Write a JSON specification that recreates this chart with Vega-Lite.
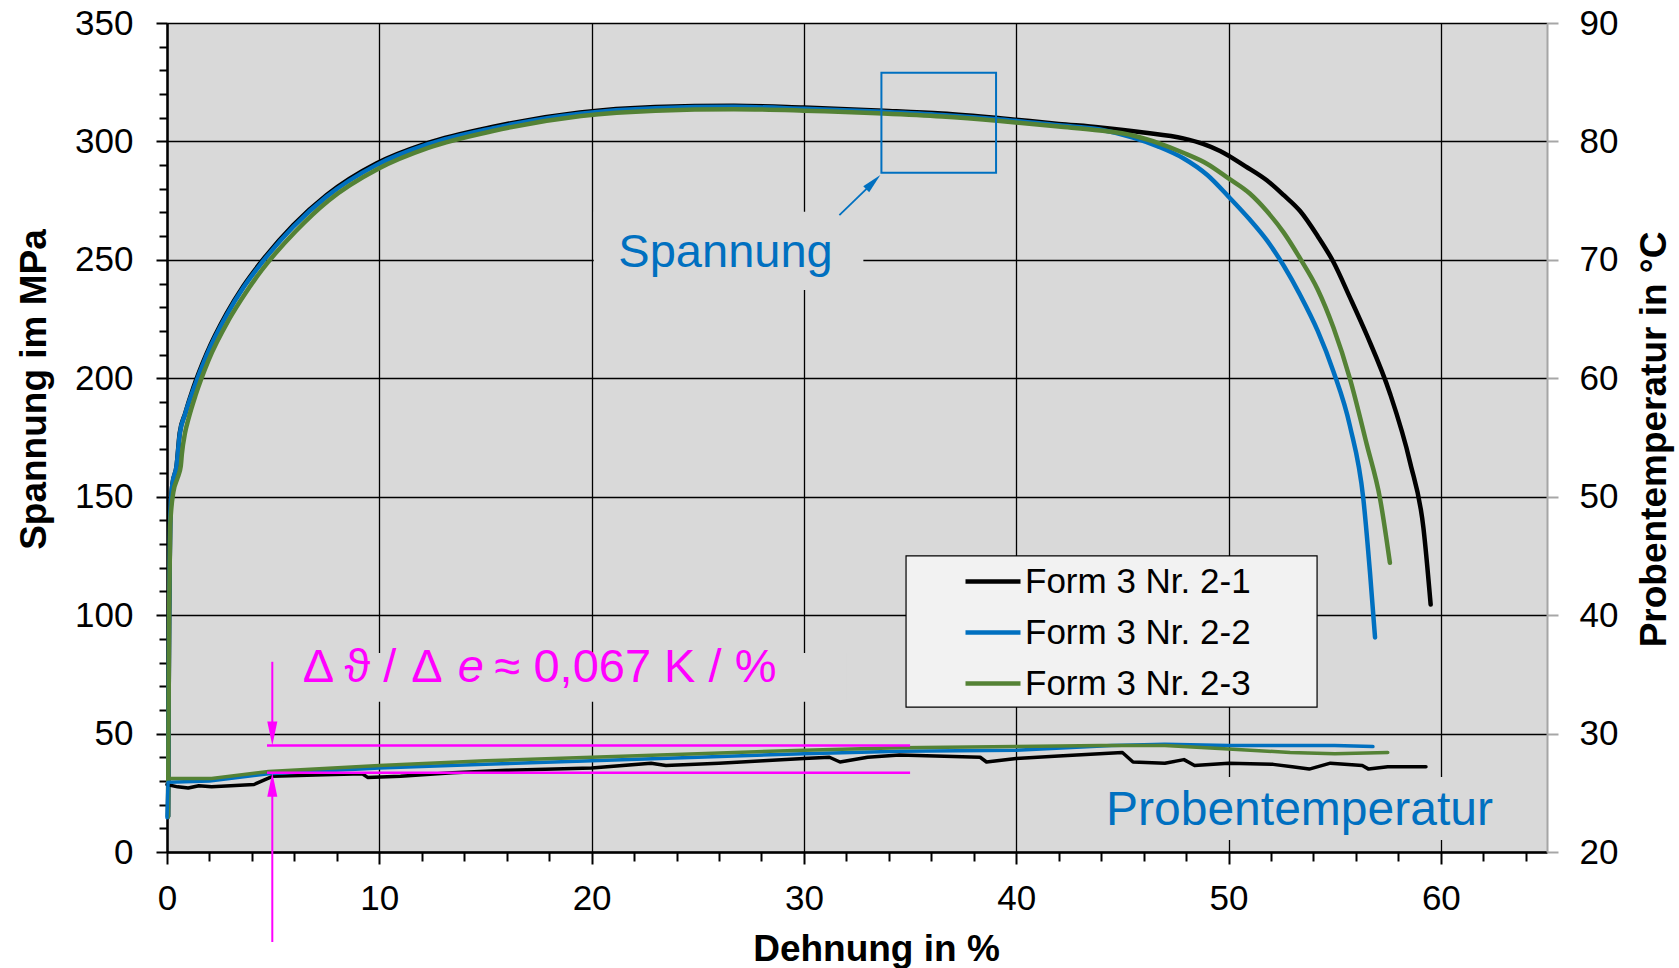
{
  "$schema": "https://vega.github.io/schema/vega-lite/v6.json",
  "width": 1380,
  "height": 829,
  "autosize": {"type": "none"},
  "padding": {"left": 167, "top": 23, "right": 132, "bottom": 116},
  "background": "white",
  "config": {"font": "Liberation Sans", "view": {"fill": "#d9d9d9", "stroke": null}},
  "datasets": {
    "stress": [
      {"series":"Form 3 Nr. 2-1","strain":0.05,"stress":15},{"series":"Form 3 Nr. 2-1","strain":0.1,"stress":100},{"series":"Form 3 Nr. 2-1","strain":0.15,"stress":140},{"series":"Form 3 Nr. 2-1","strain":0.25,"stress":155},{"series":"Form 3 Nr. 2-1","strain":0.45,"stress":163},{"series":"Form 3 Nr. 2-1","strain":0.6,"stress":177},{"series":"Form 3 Nr. 2-1","strain":0.85,"stress":185},{"series":"Form 3 Nr. 2-1","strain":1.24,"stress":196},{"series":"Form 3 Nr. 2-1","strain":1.87,"stress":210.5},{"series":"Form 3 Nr. 2-1","strain":2.81,"stress":227.4},{"series":"Form 3 Nr. 2-1","strain":3.6,"stress":239},{"series":"Form 3 Nr. 2-1","strain":4.38,"stress":248.5},{"series":"Form 3 Nr. 2-1","strain":5.95,"stress":264.7},{"series":"Form 3 Nr. 2-1","strain":7.52,"stress":277.4},{"series":"Form 3 Nr. 2-1","strain":9.88,"stress":290.8},{"series":"Form 3 Nr. 2-1","strain":12.23,"stress":299.2},{"series":"Form 3 Nr. 2-1","strain":15.37,"stress":306.2},{"series":"Form 3 Nr. 2-1","strain":19.45,"stress":312.2},{"series":"Form 3 Nr. 2-1","strain":23,"stress":314.5},{"series":"Form 3 Nr. 2-1","strain":26.7,"stress":315.1},{"series":"Form 3 Nr. 2-1","strain":30,"stress":314.3},{"series":"Form 3 Nr. 2-1","strain":33.74,"stress":313},{"series":"Form 3 Nr. 2-1","strain":36.5,"stress":311.8},{"series":"Form 3 Nr. 2-1","strain":39.24,"stress":309.8},{"series":"Form 3 Nr. 2-1","strain":42,"stress":307.4},{"series":"Form 3 Nr. 2-1","strain":43.95,"stress":305.9},{"series":"Form 3 Nr. 2-1","strain":46,"stress":303.8},{"series":"Form 3 Nr. 2-1","strain":47.87,"stress":301.3},{"series":"Form 3 Nr. 2-1","strain":48.8,"stress":299},{"series":"Form 3 Nr. 2-1","strain":49.6,"stress":296},{"series":"Form 3 Nr. 2-1","strain":50.8,"stress":289.5},{"series":"Form 3 Nr. 2-1","strain":51.8,"stress":283.6},{"series":"Form 3 Nr. 2-1","strain":52.6,"stress":277.3},{"series":"Form 3 Nr. 2-1","strain":53.37,"stress":270.6},{"series":"Form 3 Nr. 2-1","strain":54.2,"stress":260},{"series":"Form 3 Nr. 2-1","strain":54.94,"stress":249.1},{"series":"Form 3 Nr. 2-1","strain":55.7,"stress":234.5},{"series":"Form 3 Nr. 2-1","strain":56.51,"stress":218.3},{"series":"Form 3 Nr. 2-1","strain":57.6,"stress":193.7},{"series":"Form 3 Nr. 2-1","strain":58.55,"stress":164.5},{"series":"Form 3 Nr. 2-1","strain":59.18,"stress":136.8},{"series":"Form 3 Nr. 2-1","strain":59.52,"stress":104.5},
      {"series":"Form 3 Nr. 2-2","strain":0.05,"stress":15},{"series":"Form 3 Nr. 2-2","strain":0.1,"stress":100},{"series":"Form 3 Nr. 2-2","strain":0.15,"stress":140},{"series":"Form 3 Nr. 2-2","strain":0.25,"stress":155},{"series":"Form 3 Nr. 2-2","strain":0.45,"stress":163},{"series":"Form 3 Nr. 2-2","strain":0.6,"stress":176.5},{"series":"Form 3 Nr. 2-2","strain":0.85,"stress":184.8},{"series":"Form 3 Nr. 2-2","strain":1.24,"stress":195.2},{"series":"Form 3 Nr. 2-2","strain":1.87,"stress":209.8},{"series":"Form 3 Nr. 2-2","strain":2.81,"stress":226.7},{"series":"Form 3 Nr. 2-2","strain":3.6,"stress":238.3},{"series":"Form 3 Nr. 2-2","strain":4.38,"stress":247.8},{"series":"Form 3 Nr. 2-2","strain":5.95,"stress":264},{"series":"Form 3 Nr. 2-2","strain":7.52,"stress":276.7},{"series":"Form 3 Nr. 2-2","strain":9.88,"stress":290.1},{"series":"Form 3 Nr. 2-2","strain":12.23,"stress":298.6},{"series":"Form 3 Nr. 2-2","strain":15.37,"stress":305.6},{"series":"Form 3 Nr. 2-2","strain":19.45,"stress":311.7},{"series":"Form 3 Nr. 2-2","strain":23,"stress":314},{"series":"Form 3 Nr. 2-2","strain":26.7,"stress":314.6},{"series":"Form 3 Nr. 2-2","strain":30,"stress":313.8},{"series":"Form 3 Nr. 2-2","strain":33.74,"stress":312.5},{"series":"Form 3 Nr. 2-2","strain":36.5,"stress":311.2},{"series":"Form 3 Nr. 2-2","strain":39.24,"stress":309.3},{"series":"Form 3 Nr. 2-2","strain":42,"stress":306.8},{"series":"Form 3 Nr. 2-2","strain":43.95,"stress":305},{"series":"Form 3 Nr. 2-2","strain":45.5,"stress":301.6},{"series":"Form 3 Nr. 2-2","strain":46.7,"stress":297.8},{"series":"Form 3 Nr. 2-2","strain":47.87,"stress":292.9},{"series":"Form 3 Nr. 2-2","strain":49,"stress":285.8},{"series":"Form 3 Nr. 2-2","strain":50,"stress":276.7},{"series":"Form 3 Nr. 2-2","strain":51,"stress":267},{"series":"Form 3 Nr. 2-2","strain":51.8,"stress":258.3},{"series":"Form 3 Nr. 2-2","strain":52.6,"stress":247.5},{"series":"Form 3 Nr. 2-2","strain":53.37,"stress":235.2},{"series":"Form 3 Nr. 2-2","strain":54.2,"stress":220},{"series":"Form 3 Nr. 2-2","strain":54.94,"stress":202.9},{"series":"Form 3 Nr. 2-2","strain":55.72,"stress":179.8},{"series":"Form 3 Nr. 2-2","strain":56.35,"stress":149},{"series":"Form 3 Nr. 2-2","strain":56.66,"stress":118.3},{"series":"Form 3 Nr. 2-2","strain":56.9,"stress":90.6},
      {"series":"Form 3 Nr. 2-3","strain":0.05,"stress":15},{"series":"Form 3 Nr. 2-3","strain":0.1,"stress":100},{"series":"Form 3 Nr. 2-3","strain":0.15,"stress":138},{"series":"Form 3 Nr. 2-3","strain":0.3,"stress":152},{"series":"Form 3 Nr. 2-3","strain":0.5,"stress":158},{"series":"Form 3 Nr. 2-3","strain":0.65,"stress":163},{"series":"Form 3 Nr. 2-3","strain":0.7,"stress":168},{"series":"Form 3 Nr. 2-3","strain":0.85,"stress":177},{"series":"Form 3 Nr. 2-3","strain":1.0,"stress":182.5},{"series":"Form 3 Nr. 2-3","strain":1.35,"stress":193},{"series":"Form 3 Nr. 2-3","strain":1.95,"stress":207.5},{"series":"Form 3 Nr. 2-3","strain":2.9,"stress":224.5},{"series":"Form 3 Nr. 2-3","strain":3.7,"stress":236},{"series":"Form 3 Nr. 2-3","strain":4.45,"stress":245.5},{"series":"Form 3 Nr. 2-3","strain":6.05,"stress":262},{"series":"Form 3 Nr. 2-3","strain":7.6,"stress":275},{"series":"Form 3 Nr. 2-3","strain":9.95,"stress":288.5},{"series":"Form 3 Nr. 2-3","strain":12.3,"stress":297.3},{"series":"Form 3 Nr. 2-3","strain":15.4,"stress":304.5},{"series":"Form 3 Nr. 2-3","strain":19.5,"stress":310.7},{"series":"Form 3 Nr. 2-3","strain":23,"stress":313},{"series":"Form 3 Nr. 2-3","strain":26.7,"stress":313.6},{"series":"Form 3 Nr. 2-3","strain":30,"stress":313},{"series":"Form 3 Nr. 2-3","strain":33.74,"stress":311.8},{"series":"Form 3 Nr. 2-3","strain":36.5,"stress":310.5},{"series":"Form 3 Nr. 2-3","strain":39.24,"stress":308.6},{"series":"Form 3 Nr. 2-3","strain":42,"stress":306.3},{"series":"Form 3 Nr. 2-3","strain":43.95,"stress":304.6},{"series":"Form 3 Nr. 2-3","strain":45.5,"stress":302.5},{"series":"Form 3 Nr. 2-3","strain":46.7,"stress":299.3},{"series":"Form 3 Nr. 2-3","strain":47.87,"stress":295.2},{"series":"Form 3 Nr. 2-3","strain":49,"stress":290.5},{"series":"Form 3 Nr. 2-3","strain":50,"stress":284.4},{"series":"Form 3 Nr. 2-3","strain":51,"stress":278},{"series":"Form 3 Nr. 2-3","strain":51.8,"stress":270.6},{"series":"Form 3 Nr. 2-3","strain":52.6,"stress":261.5},{"series":"Form 3 Nr. 2-3","strain":53.37,"stress":250.6},{"series":"Form 3 Nr. 2-3","strain":54.2,"stress":237.5},{"series":"Form 3 Nr. 2-3","strain":54.94,"stress":221.4},{"series":"Form 3 Nr. 2-3","strain":55.72,"stress":199.8},{"series":"Form 3 Nr. 2-3","strain":56.51,"stress":172.1},{"series":"Form 3 Nr. 2-3","strain":57.14,"stress":149},{"series":"Form 3 Nr. 2-3","strain":57.6,"stress":122.1}
    ],
    "temp": [
      {"series":"Form 3 Nr. 2-1","strain":0,"temp":25.7},{"series":"Form 3 Nr. 2-1","strain":0.5,"temp":25.5},{"series":"Form 3 Nr. 2-1","strain":1.0,"temp":25.4},{"series":"Form 3 Nr. 2-1","strain":1.5,"temp":25.6},{"series":"Form 3 Nr. 2-1","strain":2.1,"temp":25.5},{"series":"Form 3 Nr. 2-1","strain":3.0,"temp":25.6},{"series":"Form 3 Nr. 2-1","strain":4.1,"temp":25.7},{"series":"Form 3 Nr. 2-1","strain":5.0,"temp":26.4},{"series":"Form 3 Nr. 2-1","strain":7,"temp":26.5},{"series":"Form 3 Nr. 2-1","strain":9.2,"temp":26.6},{"series":"Form 3 Nr. 2-1","strain":9.45,"temp":26.3},{"series":"Form 3 Nr. 2-1","strain":11,"temp":26.4},{"series":"Form 3 Nr. 2-1","strain":13.45,"temp":26.7},{"series":"Form 3 Nr. 2-1","strain":16,"temp":26.9},{"series":"Form 3 Nr. 2-1","strain":20,"temp":27.1},{"series":"Form 3 Nr. 2-1","strain":22.8,"temp":27.5},{"series":"Form 3 Nr. 2-1","strain":23.5,"temp":27.3},{"series":"Form 3 Nr. 2-1","strain":26,"temp":27.5},{"series":"Form 3 Nr. 2-1","strain":28.1,"temp":27.7},{"series":"Form 3 Nr. 2-1","strain":30,"temp":27.9},{"series":"Form 3 Nr. 2-1","strain":31.2,"temp":28.0},{"series":"Form 3 Nr. 2-1","strain":31.7,"temp":27.6},{"series":"Form 3 Nr. 2-1","strain":33,"temp":28.0},{"series":"Form 3 Nr. 2-1","strain":34.5,"temp":28.2},{"series":"Form 3 Nr. 2-1","strain":38.3,"temp":28.0},{"series":"Form 3 Nr. 2-1","strain":38.6,"temp":27.6},{"series":"Form 3 Nr. 2-1","strain":40,"temp":27.9},{"series":"Form 3 Nr. 2-1","strain":42,"temp":28.1},{"series":"Form 3 Nr. 2-1","strain":45,"temp":28.4},{"series":"Form 3 Nr. 2-1","strain":45.5,"temp":27.6},{"series":"Form 3 Nr. 2-1","strain":47,"temp":27.5},{"series":"Form 3 Nr. 2-1","strain":47.9,"temp":27.8},{"series":"Form 3 Nr. 2-1","strain":48.4,"temp":27.3},{"series":"Form 3 Nr. 2-1","strain":50,"temp":27.5},{"series":"Form 3 Nr. 2-1","strain":52.1,"temp":27.4},{"series":"Form 3 Nr. 2-1","strain":53,"temp":27.2},{"series":"Form 3 Nr. 2-1","strain":53.8,"temp":27.0},{"series":"Form 3 Nr. 2-1","strain":54.8,"temp":27.5},{"series":"Form 3 Nr. 2-1","strain":56.3,"temp":27.3},{"series":"Form 3 Nr. 2-1","strain":56.6,"temp":27.0},{"series":"Form 3 Nr. 2-1","strain":57.5,"temp":27.2},{"series":"Form 3 Nr. 2-1","strain":59.3,"temp":27.2},
      {"series":"Form 3 Nr. 2-2","strain":0,"temp":22.9},{"series":"Form 3 Nr. 2-2","strain":0.05,"temp":25.9},{"series":"Form 3 Nr. 2-2","strain":2,"temp":26.0},{"series":"Form 3 Nr. 2-2","strain":4.78,"temp":26.6},{"series":"Form 3 Nr. 2-2","strain":10,"temp":27.1},{"series":"Form 3 Nr. 2-2","strain":15,"temp":27.4},{"series":"Form 3 Nr. 2-2","strain":20,"temp":27.7},{"series":"Form 3 Nr. 2-2","strain":25,"temp":28.0},{"series":"Form 3 Nr. 2-2","strain":30,"temp":28.3},{"series":"Form 3 Nr. 2-2","strain":34.5,"temp":28.5},{"series":"Form 3 Nr. 2-2","strain":40,"temp":28.6},{"series":"Form 3 Nr. 2-2","strain":44.5,"temp":29.0},{"series":"Form 3 Nr. 2-2","strain":47,"temp":29.1},{"series":"Form 3 Nr. 2-2","strain":50,"temp":29.0},{"series":"Form 3 Nr. 2-2","strain":55,"temp":29.0},{"series":"Form 3 Nr. 2-2","strain":56.8,"temp":28.9},
      {"series":"Form 3 Nr. 2-3","strain":0.05,"temp":26.2},{"series":"Form 3 Nr. 2-3","strain":2.1,"temp":26.2},{"series":"Form 3 Nr. 2-3","strain":4.78,"temp":26.8},{"series":"Form 3 Nr. 2-3","strain":10,"temp":27.3},{"series":"Form 3 Nr. 2-3","strain":15,"temp":27.7},{"series":"Form 3 Nr. 2-3","strain":20,"temp":28.0},{"series":"Form 3 Nr. 2-3","strain":25,"temp":28.3},{"series":"Form 3 Nr. 2-3","strain":30,"temp":28.6},{"series":"Form 3 Nr. 2-3","strain":34.5,"temp":28.8},{"series":"Form 3 Nr. 2-3","strain":40,"temp":28.9},{"series":"Form 3 Nr. 2-3","strain":44,"temp":29.0},{"series":"Form 3 Nr. 2-3","strain":47,"temp":29.0},{"series":"Form 3 Nr. 2-3","strain":50,"temp":28.7},{"series":"Form 3 Nr. 2-3","strain":52.9,"temp":28.4},{"series":"Form 3 Nr. 2-3","strain":55,"temp":28.3},{"series":"Form 3 Nr. 2-3","strain":57.5,"temp":28.4}
    ]
  },
  "resolve": {"scale": {"x": "independent", "y": "independent"}, "axis": {"x": "independent", "y": "independent"}},
  "layer": [
    {
      "data": {"values": [
        {"x1": 20.1, "x2": 32.8, "y1": 237.3, "y2": 270.3},
        {"x1": 5.5, "x2": 32.0, "y1": 63.4, "y2": 84.0},
        {"x1": 43.5, "x2": 63.0, "y1": 5.1, "y2": 31.7}
      ]},
      "mark": {"type": "rect", "fill": "#d9d9d9", "stroke": null},
      "encoding": {
        "x": {"field": "x1", "type": "quantitative", "axis": null, "scale": {"domain": [0, 65], "nice": false, "zero": false}},
        "x2": {"field": "x2"},
        "y": {"field": "y1", "type": "quantitative", "axis": null, "scale": {"domain": [0, 350], "nice": false, "zero": false}},
        "y2": {"field": "y2"}
      }
    },
    {
      "data": {"values": [{"x1": 34.81, "x2": 54.17, "y1": 61.2, "y2": 125.0}]},
      "mark": {"type": "rect", "fill": "#f2f2f2", "stroke": "black", "strokeWidth": 1.2},
      "encoding": {
        "x": {"field": "x1", "type": "quantitative", "axis": null, "scale": {"domain": [0, 65], "nice": false, "zero": false}},
        "x2": {"field": "x2"},
        "y": {"field": "y1", "type": "quantitative", "axis": null, "scale": {"domain": [0, 350], "nice": false, "zero": false}},
        "y2": {"field": "y2"}
      }
    },
    {
      "data": {"name": "stress"},
      "mark": {"type": "line", "strokeWidth": 4.5, "interpolate": "monotone", "strokeCap": "round", "strokeJoin": "round"},
      "encoding": {
        "x": {"field": "strain", "type": "quantitative",
          "scale": {"domain": [0, 65], "nice": false, "zero": false},
          "axis": {
            "title": "Dehnung in %", "titleFontSize": 37, "titleFontWeight": "bold", "titleColor": "black",
            "titleX": 709, "titleY": 108, "titleAlign": "center", "titleBaseline": "alphabetic", "titleAngle": 0,
            "values": [0,2,4,6,8,10,12,14,16,18,20,22,24,26,28,30,32,34,36,38,40,42,44,46,48,50,52,54,56,58,60,62,64],
            "labelExpr": "datum.value % 10 === 0 ? datum.label : ''",
            "labelFontSize": 35, "labelColor": "black", "labelPadding": 17, "labelOverlap": false, "labelFlush": false, "labelBound": false,
            "domainColor": "black", "domainWidth": 2.5,
            "tickColor": "black", "tickWidth": 2,
            "tickSize": {"condition": {"test": "datum.value % 10 === 0", "value": 12}, "value": 9},
            "grid": true, "gridColor": "black", "gridWidth": 1.3,
            "gridOpacity": {"condition": {"test": "datum.value % 10 === 0", "value": 1}, "value": 0}
          }
        },
        "y": {"field": "stress", "type": "quantitative",
          "scale": {"domain": [0, 350], "nice": false, "zero": false},
          "axis": {
            "orient": "left",
            "title": "Spannung im MPa", "titleFontSize": 37, "titleFontWeight": "bold", "titleColor": "black",
            "titleAngle": 270, "titleX": -122, "titleY": 366, "titleAlign": "center", "titleBaseline": "alphabetic",
            "values": [0,10,20,30,40,50,60,70,80,90,100,110,120,130,140,150,160,170,180,190,200,210,220,230,240,250,260,270,280,290,300,310,320,330,340,350],
            "labelExpr": "datum.value % 50 === 0 ? datum.label : ''",
            "labelFontSize": 35, "labelColor": "black", "labelPadding": 23, "labelOverlap": false, "labelFlush": false, "labelBound": false,
            "domainColor": "black", "domainWidth": 2.5,
            "tickColor": "black", "tickWidth": 2,
            "tickSize": {"condition": {"test": "datum.value % 50 === 0", "value": 11}, "value": 8},
            "grid": true, "gridColor": "black", "gridWidth": 1.3,
            "gridOpacity": {"condition": {"test": "datum.value % 50 === 0", "value": 1}, "value": 0}
          }
        },
        "color": {"field": "series", "type": "nominal",
          "scale": {"domain": ["Form 3 Nr. 2-1", "Form 3 Nr. 2-2", "Form 3 Nr. 2-3"], "range": ["#000000", "#0070C0", "#548235"]},
          "legend": {
            "title": null, "orient": "none", "legendX": 739, "legendY": 533,
            "padding": 8,
            "symbolType": "stroke", "symbolSize": 3025, "symbolStrokeWidth": 4.5, "symbolOffset": 49,
            "labelOffset": 2, "labelFontSize": 35, "labelColor": "black", "labelLimit": 600,
            "rowPadding": 15, "clipHeight": 35
          }
        }
      }
    },
    {
      "data": {"name": "temp"},
      "mark": {"type": "line", "strokeWidth": 3.5, "strokeCap": "round", "strokeJoin": "round"},
      "encoding": {
        "x": {"field": "strain", "type": "quantitative", "axis": null, "scale": {"domain": [0, 65], "nice": false, "zero": false}},
        "y": {"field": "temp", "type": "quantitative",
          "scale": {"domain": [20, 90], "nice": false, "zero": false},
          "axis": {
            "orient": "right",
            "title": "Probentemperatur in °C", "titleFontSize": 37, "titleFontWeight": "bold", "titleColor": "black",
            "titleAngle": 270, "titleX": 118, "titleY": 416, "titleAlign": "center", "titleBaseline": "alphabetic",
            "values": [20, 30, 40, 50, 60, 70, 80, 90],
            "labelFontSize": 35, "labelColor": "black", "labelPadding": 21, "labelOverlap": false, "labelFlush": false, "labelBound": false,
            "domainColor": "#a6a6a6", "domainWidth": 2,
            "tickColor": "#a6a6a6", "tickWidth": 2, "tickSize": 11,
            "grid": false
          }
        },
        "color": {"field": "series", "type": "nominal"}
      }
    },
    {
      "data": {"values": [
        {"x1": 4.71, "x2": 35.0, "y1": 45.0, "y2": 45.0},
        {"x1": 4.71, "x2": 35.0, "y1": 33.5, "y2": 33.5}
      ]},
      "mark": {"type": "rule", "color": "#FF00FF", "strokeWidth": 2.5},
      "encoding": {
        "x": {"field": "x1", "type": "quantitative", "axis": null, "scale": {"domain": [0, 65], "nice": false, "zero": false}},
        "x2": {"field": "x2"},
        "y": {"field": "y1", "type": "quantitative", "axis": null, "scale": {"domain": [0, 350], "nice": false, "zero": false}},
        "y2": {"field": "y2"}
      }
    },
    {
      "data": {"values": [
        {"x1": 4.96, "x2": 4.96, "y1": 80.3, "y2": 48.0},
        {"x1": 4.96, "x2": 4.96, "y1": -38.0, "y2": 30.0}
      ]},
      "mark": {"type": "rule", "color": "#FF00FF", "strokeWidth": 2},
      "encoding": {
        "x": {"field": "x1", "type": "quantitative", "axis": null, "scale": {"domain": [0, 65], "nice": false, "zero": false}},
        "x2": {"field": "x2"},
        "y": {"field": "y1", "type": "quantitative", "axis": null, "scale": {"domain": [0, 350], "nice": false, "zero": false}},
        "y2": {"field": "y2"}
      }
    },
    {
      "data": {"values": [{"strain": 4.96, "stress": 45.0}]},
      "mark": {"type": "point", "shape": "M-0.42,-2L0.42,-2L0,0Z", "filled": true, "size": 576, "color": "#FF00FF", "opacity": 1, "strokeWidth": 0},
      "encoding": {
        "x": {"field": "strain", "type": "quantitative", "axis": null, "scale": {"domain": [0, 65], "nice": false, "zero": false}},
        "y": {"field": "stress", "type": "quantitative", "axis": null, "scale": {"domain": [0, 350], "nice": false, "zero": false}}
      }
    },
    {
      "data": {"values": [{"strain": 4.96, "stress": 33.5}]},
      "mark": {"type": "point", "shape": "M-0.42,2L0.42,2L0,0Z", "filled": true, "size": 576, "color": "#FF00FF", "opacity": 1, "strokeWidth": 0},
      "encoding": {
        "x": {"field": "strain", "type": "quantitative", "axis": null, "scale": {"domain": [0, 65], "nice": false, "zero": false}},
        "y": {"field": "stress", "type": "quantitative", "axis": null, "scale": {"domain": [0, 350], "nice": false, "zero": false}}
      }
    },
    {
      "data": {"values": [
        {"label": "Δ ϑ /", "strain": 6.39, "stress": 71.9},
        {"label": "Δ", "strain": 11.5, "stress": 71.9},
        {"label": "≈ 0,067 K / %", "strain": 15.43, "stress": 71.9}
      ]},
      "mark": {"type": "text", "align": "left", "baseline": "alphabetic", "fontSize": 47, "color": "#FF00FF"},
      "encoding": {
        "x": {"field": "strain", "type": "quantitative", "axis": null, "scale": {"domain": [0, 65], "nice": false, "zero": false}},
        "y": {"field": "stress", "type": "quantitative", "axis": null, "scale": {"domain": [0, 350], "nice": false, "zero": false}},
        "text": {"field": "label"}
      }
    },
    {
      "data": {"values": [{"label": "e", "strain": 13.69, "stress": 71.9}]},
      "mark": {"type": "text", "align": "left", "baseline": "alphabetic", "fontSize": 47, "fontStyle": "italic", "color": "#FF00FF"},
      "encoding": {
        "x": {"field": "strain", "type": "quantitative", "axis": null, "scale": {"domain": [0, 65], "nice": false, "zero": false}},
        "y": {"field": "stress", "type": "quantitative", "axis": null, "scale": {"domain": [0, 350], "nice": false, "zero": false}},
        "text": {"field": "label"}
      }
    },
    {
      "data": {"values": [{"label": "Spannung", "strain": 21.26, "stress": 247.1}]},
      "mark": {"type": "text", "align": "left", "baseline": "alphabetic", "fontSize": 47, "color": "#0070C0"},
      "encoding": {
        "x": {"field": "strain", "type": "quantitative", "axis": null, "scale": {"domain": [0, 65], "nice": false, "zero": false}},
        "y": {"field": "stress", "type": "quantitative", "axis": null, "scale": {"domain": [0, 350], "nice": false, "zero": false}},
        "text": {"field": "label"}
      }
    },
    {
      "data": {"values": [{"label": "Probentemperatur", "strain": 44.23, "stress": 11.4}]},
      "mark": {"type": "text", "align": "left", "baseline": "alphabetic", "fontSize": 48, "color": "#0070C0"},
      "encoding": {
        "x": {"field": "strain", "type": "quantitative", "axis": null, "scale": {"domain": [0, 65], "nice": false, "zero": false}},
        "y": {"field": "stress", "type": "quantitative", "axis": null, "scale": {"domain": [0, 350], "nice": false, "zero": false}},
        "text": {"field": "label"}
      }
    },
    {
      "data": {"values": [{"x1": 33.65, "x2": 39.05, "y1": 286.8, "y2": 329.0}]},
      "mark": {"type": "rect", "fill": null, "fillOpacity": 0, "stroke": "#0070C0", "strokeWidth": 2},
      "encoding": {
        "x": {"field": "x1", "type": "quantitative", "axis": null, "scale": {"domain": [0, 65], "nice": false, "zero": false}},
        "x2": {"field": "x2"},
        "y": {"field": "y1", "type": "quantitative", "axis": null, "scale": {"domain": [0, 350], "nice": false, "zero": false}},
        "y2": {"field": "y2"}
      }
    },
    {
      "data": {"values": [{"x1": 31.67, "x2": 33.3, "y1": 268.9, "y2": 283.0}]},
      "mark": {"type": "rule", "color": "#0070C0", "strokeWidth": 1.8},
      "encoding": {
        "x": {"field": "x1", "type": "quantitative", "axis": null, "scale": {"domain": [0, 65], "nice": false, "zero": false}},
        "x2": {"field": "x2"},
        "y": {"field": "y1", "type": "quantitative", "axis": null, "scale": {"domain": [0, 350], "nice": false, "zero": false}},
        "y2": {"field": "y2"}
      }
    },
    {
      "data": {"values": [{"strain": 33.6, "stress": 285.8}]},
      "mark": {"type": "point", "shape": "M0,0L-0.42,2L0.42,2Z", "filled": true, "size": 400, "angle": 45, "color": "#0070C0", "opacity": 1, "strokeWidth": 0},
      "encoding": {
        "x": {"field": "strain", "type": "quantitative", "axis": null, "scale": {"domain": [0, 65], "nice": false, "zero": false}},
        "y": {"field": "stress", "type": "quantitative", "axis": null, "scale": {"domain": [0, 350], "nice": false, "zero": false}}
      }
    }
  ]
}
